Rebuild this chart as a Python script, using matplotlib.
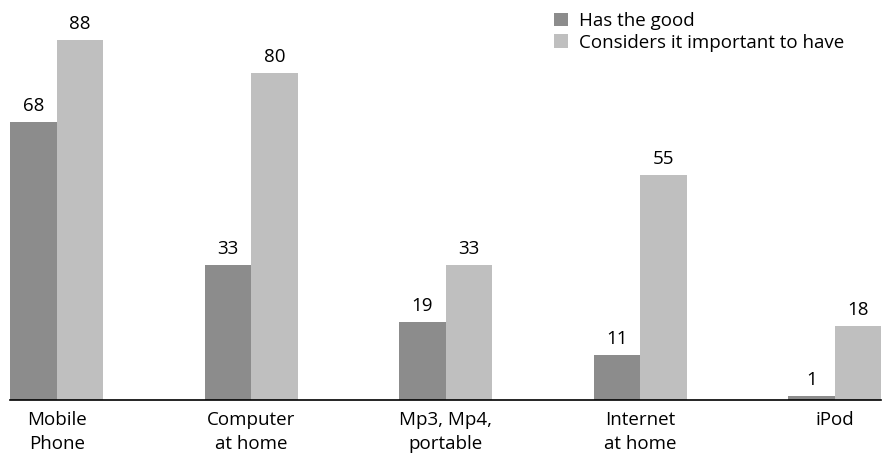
import numpy as np
import matplotlib.pyplot as plt

categories = ['Mobile\nPhone', 'Computer\nat home', 'Mp3, Mp4,\nportable', 'Internet\nat home', 'iPod']
has_good = [68, 33, 19, 11, 1]
important = [88, 80, 33, 55, 18]

plt.rcParams['font.family'] = ['Open Sans', 'DejaVu Sans']
fs = 13.5

fig = plt.figure(figsize=(8.84, 4.58), dpi=100)
ax = fig.add_axes([10 / 884, 1 - 400 / 458, 871 / 884, 400 / 458])

x = np.arange(len(categories))
w = 0.239
b1 = ax.bar(x - w / 2, has_good, w, color='#8c8c8c', label='Has the good')
b2 = ax.bar(x + w / 2, important, w, color='#bfbfbf', label='Considers it important to have')

for bars in (b1, b2):
    for rect in bars:
        h = rect.get_height()
        ax.annotate(f'{h:g}', (rect.get_x() + rect.get_width() / 2, h),
                    xytext=(0, 5), textcoords='offset points',
                    ha='center', va='bottom', fontsize=fs)

ax.set_xlim(-w - 0.001, len(categories) - 1 + w)
ax.set_ylim(0, 97.8)
ax.set_xticks(x)
ax.set_xticklabels(categories, fontsize=fs, linespacing=1.42)
ax.tick_params(axis='x', length=0, pad=8)
ax.set_yticks([])
for s in ('top', 'right', 'left'):
    ax.spines[s].set_visible(False)
ax.spines['bottom'].set_color('black')
ax.spines['bottom'].set_linewidth(1.2)

ax.legend(loc='upper left', bbox_to_anchor=(0.6246, 0.97), frameon=False,
          fontsize=fs, handlelength=0.75, handleheight=0.75,
          handletextpad=0.6, labelspacing=0.2, borderaxespad=0, borderpad=0)

fig.savefig('out.png', dpi=100)
